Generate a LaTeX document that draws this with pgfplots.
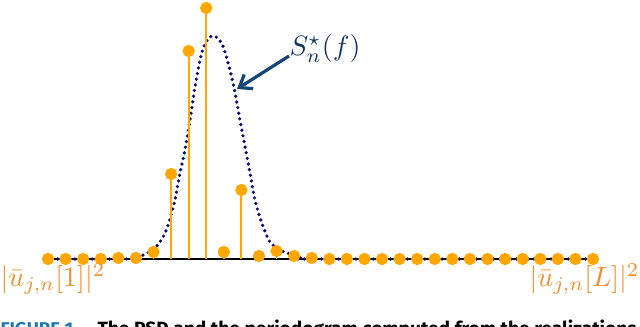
\documentclass[border=0pt]{standalone}
\usepackage{pgfplots}
\pgfplotsset{compat=1.18}
\usepackage{fontspec}
\newfontfamily\capfont{Fira Sans}
\usetikzlibrary{arrows.meta}
\definecolor{stemorange}{RGB}{255,166,0}
\definecolor{lblorange}{RGB}{242,142,43}
\definecolor{curvenavy}{RGB}{15,15,120}
\definecolor{arrowblue}{RGB}{22,70,118}
\definecolor{labelnavy}{RGB}{18,52,100}
\definecolor{capblue}{RGB}{30,120,180}
\begin{document}
\begin{tikzpicture}[x=0.35714pt,y=0.35714pt]
\begin{axis}[
  at={(17.143pt,24.286pt)}, anchor=origin,
  x=6.279pt, y=0.35714pt,
  xmin=-1, xmax=32, ymin=-10, ymax=260,
  hide axis, clip=false]
% baseline
\addplot[black, line width=0.45pt] coordinates {(0,0) (31,0)};
% PSD (dotted)
\addplot[curvenavy, line width=1.3pt, line cap=round, dash pattern=on 0pt off 2.05pt, smooth, tension=0.5] coordinates {
(-0.1,0) (4.5,0) (5.05,1) (5.42,4) (6.09,11) (6.66,26) (7.13,52) (7.51,86) (7.79,109) (8.08,139) (8.36,172) (8.74,206) (9.1,220) (9.4,223) (9.7,220) (9.97,212) (10.35,189) (10.64,166) (10.92,139) (11.21,112) (11.49,86) (11.77,59) (12.16,36) (12.63,17) (13.2,9) (13.94,4) (14.5,1) (15.2,0) (31.4,0)};
% periodogram
\addplot[stemorange, line width=0.65pt, ycomb, mark=*, mark size=1.85pt, mark options={fill=stemorange, draw=stemorange}] coordinates {
(0,0) (1,0) (2,0) (3,0) (4,1) (5,1) (6,7) (7,85) (8,208) (9,251) (10,7) (11,69) (12,3) (13,8) (14,3) (15,1) (16,0) (17,0) (18,0) (19,0) (20,0) (21,0) (22,0) (23,0) (24,0) (25,0) (26,0) (27,0) (28,0) (29,0) (30,0) (31,0)};
\end{axis}
% annotation
\draw[arrowblue, line width=1.15pt, -{Straight Barb[length=4pt,width=6pt]}] (289,271) -- (237,238);
\node[labelnavy, anchor=base west, inner sep=0pt] at (289,271.6) {$S_n^\star(f)$};
\node[lblorange, anchor=base west, inner sep=0pt] at (0,40.3) {$|\bar{u}_{j,n}[1]|^2$};
\node[lblorange, anchor=base east, inner sep=0pt] at (640,40.3) {$|\bar{u}_{j,n}[L]|^2$};
% caption (cut off by the page edge)
\begin{scope}
\clip (0,0) rectangle (640,327);
\node[anchor=base west, inner sep=0pt] at (0,-8.5) {\resizebox{27.5pt}{!}{\capfont\bfseries\fontsize{7.2}{8}\selectfont\textcolor{capblue}{FIGURE 1.}}};
\node[anchor=base west, inner sep=0pt] at (97,-8.5) {\resizebox{192.5pt}{!}{\capfont\bfseries\fontsize{7.2}{8}\selectfont The PSD and the periodogram computed from the realizations}};
\end{scope}
\pgfresetboundingbox
\useasboundingbox (0,0) rectangle (640,327);
\end{tikzpicture}
\end{document}
